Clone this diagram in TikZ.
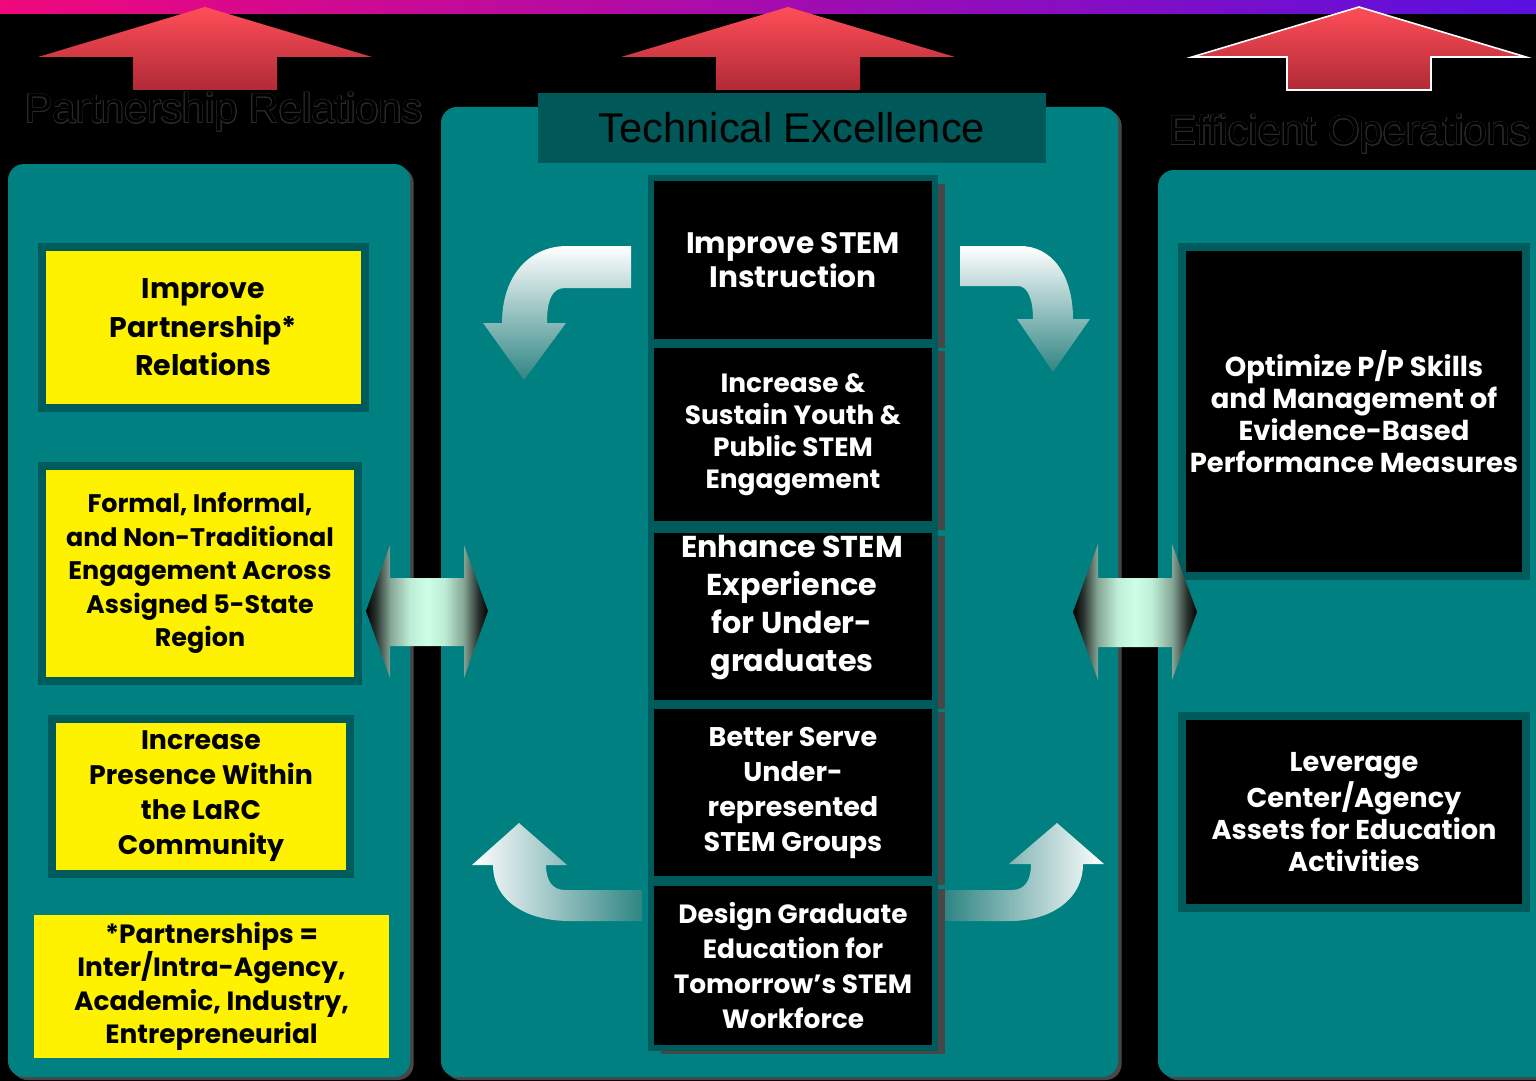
\documentclass[tikz,border=0pt]{standalone}
\usepackage{fontspec}
\setmainfont{Poppins}
\newfontfamily\headfont{Liberation Sans}
\usepackage{contour}
\contourlength{0.3pt}
\contournumber{16}
\usetikzlibrary{shadows}

\definecolor{panelteal}{HTML}{008080}
\definecolor{borderteal}{HTML}{005C5C}
\definecolor{titleteal}{HTML}{005858}
\definecolor{shadowgrey}{HTML}{474747}
\definecolor{outlinegrey}{HTML}{2A2A2A}
\definecolor{mint}{HTML}{CCFFE6}
\definecolor{arrowgrey}{HTML}{86A696}
\definecolor{fadeteal}{HTML}{2F8583}
\definecolor{paleteal}{HTML}{D2E2E1}
\definecolor{barpink}{HTML}{F0087C}
\definecolor{barpurple}{HTML}{B00AA8}
\definecolor{barblue}{HTML}{5A10E0}
\definecolor{redtop}{HTML}{FF4E58}
\definecolor{redbottom}{HTML}{B02A36}

% dark tips, pale middle
\pgfdeclarehorizontalshading{twoway}{100bp}{color(0bp)=(black); color(25bp)=(black);
  color(29bp)=(black!70!arrowgrey); color(35bp)=(arrowgrey); color(43bp)=(mint!80!arrowgrey);
  color(50bp)=(mint); color(57bp)=(mint!80!arrowgrey); color(65bp)=(arrowgrey);
  color(71bp)=(black!70!arrowgrey); color(75bp)=(black); color(100bp)=(black)}

\newcommand{\gfont}[2]{\fontsize{#1}{#2}\selectfont\bfseries}

\tikzset{
  panel/.style={fill=panelteal, rounded corners=8pt,
    drop shadow={shadow xshift=1.8pt, shadow yshift=-1.5pt, fill=shadowgrey, opacity=1}},
  goalbox/.style={draw=borderteal, line width=4pt, fill=yellow, text=black,
    align=center, inner sep=0pt},
  stembox/.style={draw=borderteal, line width=3pt, fill=black, text=white,
    align=center, inner sep=0pt, minimum width=142pt,
    drop shadow={shadow xshift=5pt, shadow yshift=-3pt, fill=shadowgrey, opacity=1}},
  opsbox/.style={draw=borderteal, line width=4pt, fill=black, text=white,
    align=center, inner sep=0pt, minimum width=172pt},
  headtext/.style={font=\headfont\fontsize{20.8}{24}\selectfont, text=black, inner sep=0pt},
  redarrow/.style={top color=redtop, bottom color=redbottom},
  turnv/.style={top color=white, middle color=paleteal, bottom color=fadeteal},
}

\begin{document}
\begin{tikzpicture}[x=0.5pt, y=-0.5pt]
	\path[use as bounding box] (0,0) rectangle (1536,1081);
	\fill[black] (0,0) rectangle (1536,1081);
	\clip (0,0) rectangle (1536,1081);

	% colour band and the three big arrows
	\shade[left color=barpink, middle color=barpurple, right color=barblue] (0,0) rectangle (1536,14);
	\foreach \cx/\edge in {205/none, 788/none, 1359/white}
		\shadedraw[redarrow, draw=\edge, line width=0.8pt] (\cx,7) -- (\cx+167,57) -- (\cx+72,57) -- (\cx+72,90)
			-- (\cx-72,90) -- (\cx-72,57) -- (\cx-167,57) -- cycle;

	% column panels
	\fill[panel] (8,164) rectangle (410,1077);
	\fill[panel] (441,107) rectangle (1118,1077);
	\fill[panel] (1158,170) rectangle (1570,1077);

	% column titles
	\node[headtext, anchor=base] (partnertitle) at (224,123) {\contour{outlinegrey}{Partnership Relations}};
	\node[headtext, anchor=base] (opstitle) at (1350,145) {\contour{outlinegrey}{Efficient Operations}};
	\node[headtext, fill=titleteal, minimum width=254pt, minimum height=35pt] (techtitle) at (792,128) {Technical Excellence};

	% left column
	\node[goalbox, minimum width=161.5pt, minimum height=80.5pt, font=\gfont{14.2}{19.25}] (partner) at (203.5,327.5)
		{Improve\\Partnership*\\Relations};
	\node[goalbox, minimum width=158pt, minimum height=107.5pt, font=\gfont{12.7}{16.75}] (engage) at (200,573.5)
		{Formal, Informal,\\and Non-Traditional\\Engagement Across\\Assigned 5-State\\Region};
	\node[goalbox, minimum width=149pt, minimum height=77.5pt, font=\gfont{13.4}{17.5}] (presence) at (201,796.5)
		{Increase\\Presence Within\\the LaRC\\Community};
	\node[goalbox, draw=none, minimum width=177.5pt, minimum height=71.5pt, font=\gfont{13.2}{16.8}] (note) at (211.5,986.5)
		{*Partnerships =\\Inter/Intra-Agency,\\Academic, Industry,\\Entrepreneurial};

	% middle column
	\node[stembox, minimum height=82pt, font=\gfont{14.8}{17}] (instruct) at (793,260)
		{Improve STEM\\Instruction};
	\node[stembox, minimum height=89.5pt, font=\gfont{13.2}{16}] (youth) at (793,434.5)
		{Increase \&\\Sustain Youth \&\\Public STEM\\Engagement};
	\node[stembox, minimum height=86.5pt] (undergrad) at (793,616.5) {};
	\node[text=white, align=center, inner sep=0pt, font=\gfont{15.1}{19}] (undergradtext) at (792,607.5)
		{Enhance STEM\\Experience\\for Under-\\graduates};
	\node[stembox, minimum height=86.5pt, font=\gfont{13.5}{17.5}] (serve) at (793,792.5)
		{Better Serve\\Under-\\represented\\STEM Groups};
	\node[stembox, minimum height=82.5pt, font=\gfont{13.2}{17.5}] (graduate) at (793,965.5)
		{Design Graduate\\Education for\\Tomorrow’s STEM\\Workforce};

	% right column
	\node[opsbox, minimum height=164.5pt, font=\gfont{13.7}{16}] (skills) at (1354,411.5)
		{Optimize P/P Skills\\and Management of\\Evidence-Based\\Performance Measures};
	\node[opsbox, minimum height=96pt, font=\gfont{13.6}{16}] (assets) at (1354,812)
		{Leverage\\Center/Agency\\Assets for Education\\Activities};

	% two-way arrows between the columns
	\shade[shading=twoway] (366,611) -- (390,545) -- (390,578) -- (464,578) -- (464,545) -- (488,611)
		-- (464,678) -- (464,646) -- (390,646) -- (390,678) -- cycle;
	\shade[shading=twoway] (1073,612) -- (1098,544) -- (1098,578) -- (1172,578) -- (1172,544) -- (1197,612)
		-- (1172,680) -- (1172,647) -- (1098,647) -- (1098,680) -- cycle;

	% turning arrows round the middle column
	\shade[turnv] (631,246) -- (567,246) .. controls (530,246) and (502,275) .. (502,323) -- (483,323)
		-- (524,380) -- (566,323) -- (547,323) .. controls (547,300) and (552,288) .. (565,288) -- (631,288) -- cycle;
	\shade[turnv] (960,246) -- (1020,246) .. controls (1052,246) and (1073,275) .. (1073,319) -- (1090,319)
		-- (1053,372) -- (1017,319) -- (1033,319) .. controls (1033,300) and (1028,286) .. (1018,286) -- (960,286) -- cycle;
	\shade[left color=white, middle color=paleteal, right color=fadeteal] (642,921) -- (570,921)
		.. controls (525,921) and (493,900) .. (493,865) -- (472,865) -- (519,823) -- (567,865) -- (546,865)
		.. controls (546,880) and (552,890) .. (565,890) -- (642,890) -- cycle;
	\shade[left color=fadeteal, middle color=paleteal, right color=white] (945,890) -- (1012,890)
		.. controls (1025,890) and (1031,880) .. (1031,864) -- (1009,864) -- (1057,823) -- (1104,864) -- (1083,864)
		.. controls (1083,900) and (1050,921) .. (1010,921) -- (945,921) -- cycle;
\end{tikzpicture}
\end{document}
